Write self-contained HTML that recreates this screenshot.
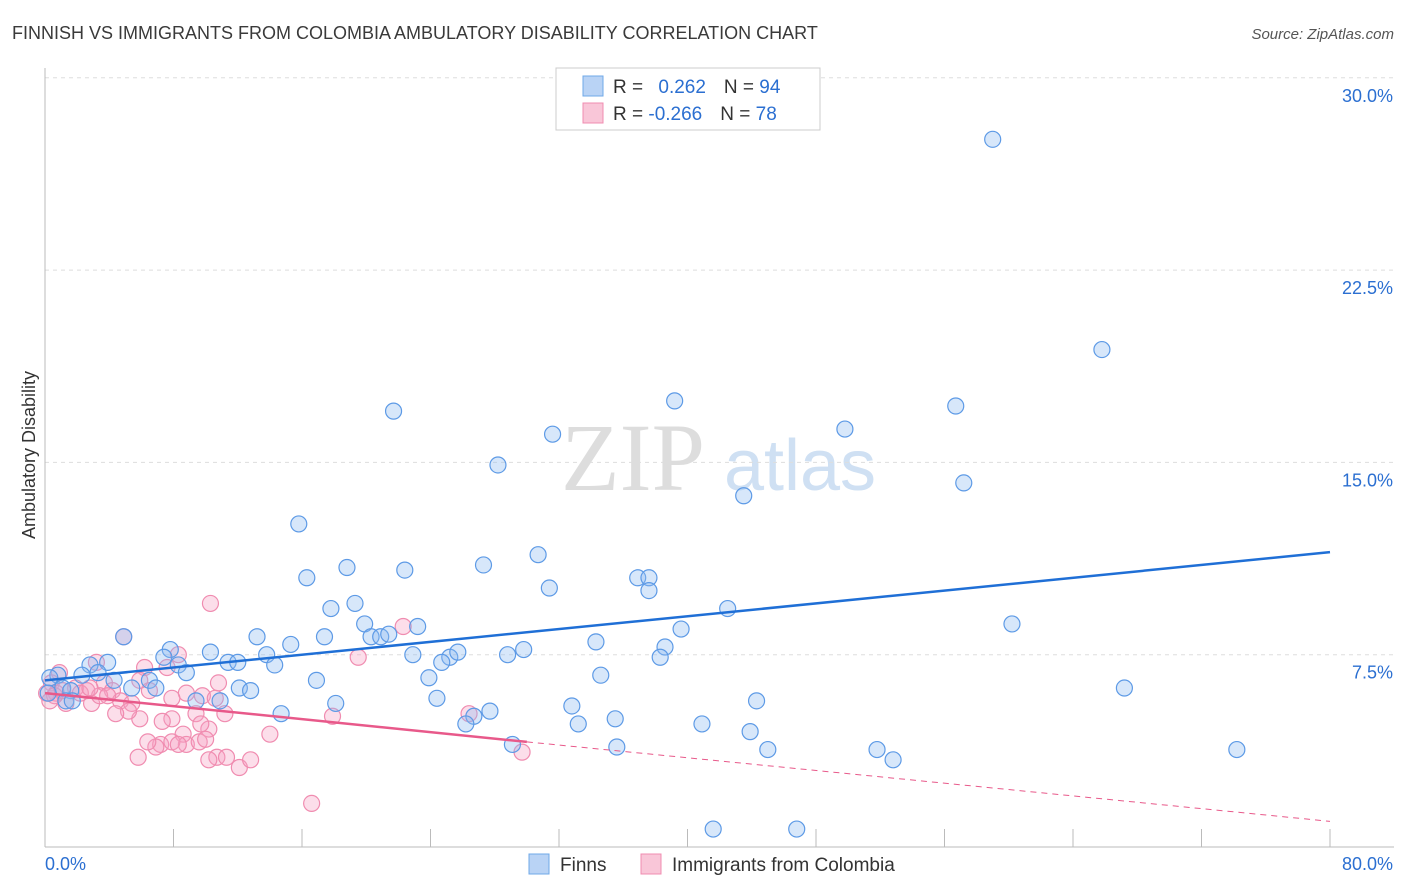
<!DOCTYPE html>
<html><head><meta charset="utf-8"><style>
body{margin:0;background:#fff;font-family:"Liberation Sans",sans-serif;}
svg{display:block}
</style></head><body>
<svg id="chart" width="1406" height="892" xmlns="http://www.w3.org/2000/svg">
<text x="12" y="39" font-size="18" fill="#3a3a3a">FINNISH VS IMMIGRANTS FROM COLOMBIA AMBULATORY DISABILITY CORRELATION CHART</text>
<text x="1394" y="39" font-size="15" fill="#555" text-anchor="end" font-style="italic">Source: ZipAtlas.com</text>
<text x="35" y="455" font-size="18" fill="#333" text-anchor="middle" transform="rotate(-90 35 455)">Ambulatory Disability</text>
<g><text x="633" y="490" font-size="96" fill="#ddd" font-family="Liberation Serif,serif" text-anchor="middle">ZIP</text><text x="800" y="490" font-size="72" fill="#cfe0f3" text-anchor="middle">atlas</text></g>
<g id="grid"></g><g id="axes"></g><g id="pts"></g><g id="lines"></g>
<g>
<rect x="556" y="68" width="264" height="62" fill="#fff" stroke="#ccc"/>
<rect x="583" y="76" width="20" height="20" fill="#b9d3f5" stroke="#6fa8e8"/>
<rect x="583" y="103" width="20" height="20" fill="#f9c6d8" stroke="#f08cb0"/>
<text x="613" y="93" font-size="19" fill="#333">R = <tspan fill="#2b6fd1" dx="10">0.262</tspan><tspan dx="18" fill="#333">N = </tspan><tspan fill="#2b6fd1">94</tspan></text>
<text x="613" y="120" font-size="19" fill="#333">R = <tspan fill="#2b6fd1">-0.266</tspan><tspan dx="18" fill="#333">N = </tspan><tspan fill="#2b6fd1">78</tspan></text>
</g>
<g>
<rect x="529" y="854" width="20" height="20" fill="#b9d3f5" stroke="#6fa8e8"/>
<text x="560" y="871" font-size="19" fill="#333">Finns</text>
<rect x="641" y="854" width="20" height="20" fill="#f9c6d8" stroke="#f08cb0"/>
<text x="672" y="871" font-size="19" fill="#333">Immigrants from Colombia</text>
</g>
</svg>
<script>
const yTicks=[7.5,15.0,22.5,30.0];
const xTickLabels=["0.0%","80.0%"];
const finnsX=[59.0,65.8,21.7,39.2,56.7,49.8,31.6,28.2,57.2,43.5,15.8,30.7,27.3,18.8,22.4,16.3,36.9,37.6,31.4,37.6,17.8,19.3,42.5,19.9,60.2,39.6,20.3,20.9,21.4,23.2,34.3,38.6,29.8,28.8,38.3,25.2,25.7,24.7,22.9,13.2,15.3,17.4,13.8,14.3,10.3,11.4,12.0,7.8,7.4,8.3,8.8,4.9,3.9,2.8,2.3,3.3,4.3,5.4,6.5,6.9,12.1,12.8,16.9,34.6,23.9,67.2,24.4,9.4,10.9,18.1,14.7,32.8,27.7,26.7,26.2,35.5,40.9,44.3,33.2,43.9,29.1,35.6,45.0,51.8,52.8,74.2,41.6,46.8,0.8,0.3,1.1,1.6,0.2,1.3,1.7];
const finnsY=[27.6,19.4,17.0,17.4,17.2,16.3,16.1,14.9,14.2,13.7,12.6,11.4,11.0,10.9,10.8,10.5,10.5,10.5,10.1,10.0,9.3,9.5,9.3,8.7,8.7,8.5,8.2,8.2,8.3,8.6,8.0,7.8,7.7,7.5,7.4,7.4,7.6,7.2,7.5,8.2,7.9,8.2,7.5,7.1,7.6,7.2,7.2,7.7,7.4,7.1,6.8,8.2,7.2,7.1,6.7,6.8,6.5,6.2,6.5,6.2,6.2,6.1,6.5,6.7,6.6,6.2,5.8,5.7,5.7,5.6,5.2,5.5,5.3,5.1,4.8,5.0,4.8,5.7,4.8,4.5,4.0,3.9,3.8,3.8,3.4,3.8,0.7,0.7,6.7,6.6,6.2,6.1,6.0,5.7,5.7];
const colX=[10.3,4.9,8.3,6.2,7.6,3.2,0.9,0.4,1.9,2.6,3.7,4.2,4.7,5.4,6.5,5.9,8.8,9.8,10.8,10.6,0.7,1.3,2.9,11.2,9.4,7.9,7.3,5.9,5.2,4.4,7.9,10.2,9.7,8.6,8.8,7.2,6.9,7.9,8.3,6.4,9.6,10.0,10.7,11.3,12.1,12.8,10.2,5.8,14.0,17.9,19.5,22.3,26.4,29.7,16.6,0.1,0.6,1.1,2.2,3.4,0.3,3.9,2.8];
const colY=[9.5,8.2,7.5,7.0,7.0,7.2,6.8,6.4,6.2,6.1,6.4,6.1,5.7,5.6,6.1,6.5,6.0,5.9,6.4,5.8,6.0,5.6,5.6,5.2,5.2,5.0,4.9,5.0,5.3,5.2,5.8,4.6,4.8,4.4,4.0,4.0,3.9,4.1,4.0,4.1,4.1,4.2,3.5,3.5,3.1,3.4,3.4,3.5,4.4,5.1,7.4,8.6,5.2,3.7,1.7,6.0,5.9,6.1,6.0,5.9,5.7,5.9,6.2];
const finnsTrend=[6.5,11.5];   // value at x=0, x=80
const colTrend=[6.0,4.1,1.0];  // value at x=0, x=30 (end of solid), x=80
const colSolidEnd=30;

const X0=45,X1=1330,Y0=847,PXPER=25.64;
const xs=v=>X0+(v/80)*(X1-X0);
const ys=v=>Y0-v*PXPER;
const NS="http://www.w3.org/2000/svg";
function mk(tag,attrs,parent){const e=document.createElementNS(NS,tag);for(const k in attrs)e.setAttribute(k,attrs[k]);parent.appendChild(e);return e;}
const grid=document.getElementById('grid'),axes=document.getElementById('axes'),pts=document.getElementById('pts'),lines=document.getElementById('lines');
yTicks.forEach(t=>{
 const l=mk('line',{x1:X0,x2:1394,y1:ys(t),y2:ys(t),stroke:'#ddd','stroke-dasharray':'4,4'},grid);
 
 
 const tx=mk('text',{x:1393,y:ys(t)+24,'font-size':18,fill:'#2b6fd1','text-anchor':'end'},axes);
 tx.textContent=t.toFixed(1)+'%';
 
 
});
const ya=mk('line',{x1:X0,x2:X0,y1:68,y2:Y0,stroke:'#bbb'},axes);


const xa=mk('line',{x1:X0,x2:1394,y1:Y0,y2:Y0,stroke:'#bbb'},axes);


for(let v=0;v<=80;v+=8){
 const tk=mk('line',{x1:xs(v),x2:xs(v),y1:Y0,y2:Y0-18,stroke:'#bbb'},axes);
 
 
}
const xl0=mk('text',{x:45,y:870,'font-size':18,fill:'#2b6fd1'},axes);xl0.textContent=xTickLabels[0];


const xl1=mk('text',{x:1393,y:870,'font-size':18,fill:'#2b6fd1','text-anchor':'end'},axes);xl1.textContent=xTickLabels[1];


colX.forEach((x,i)=>{
 const c=mk('circle',{cx:xs(x),cy:ys(colY[i]),r:8,fill:'rgba(245,160,195,0.35)',stroke:'#f08cb0','stroke-width':1.2},pts);
 
 
});
finnsX.forEach((x,i)=>{
 const c=mk('circle',{cx:xs(x),cy:ys(finnsY[i]),r:8,fill:'rgba(140,185,240,0.35)',stroke:'#5d9ae6','stroke-width':1.2},pts);
 
 
});
const bl=mk('line',{x1:xs(0),y1:ys(finnsTrend[0]),x2:xs(80),y2:ys(finnsTrend[1]),stroke:'#1f6fd6','stroke-width':2.5},lines);


const pl=mk('line',{x1:xs(0),y1:ys(colTrend[0]),x2:xs(colSolidEnd),y2:ys(colTrend[1]),stroke:'#e8598a','stroke-width':2.5},lines);


const pd=mk('line',{x1:xs(colSolidEnd),y1:ys(colTrend[1]),x2:xs(80),y2:ys(colTrend[2]),stroke:'#e8598a','stroke-width':1,'stroke-dasharray':'6,5'},lines);


</script>
</body></html>
